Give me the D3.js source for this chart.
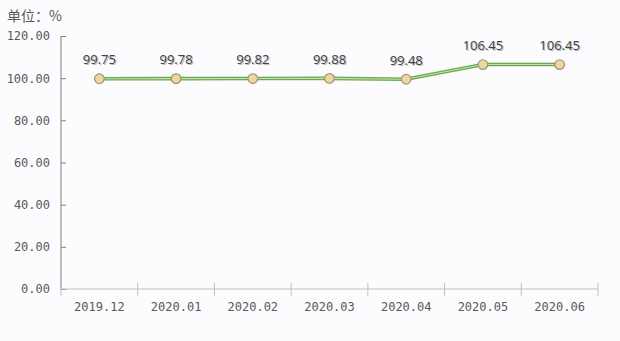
<!DOCTYPE html>
<html><head><meta charset="utf-8">
<script src="https://cdn.jsdelivr.net/npm/d3@7"></script>
<style>
html,body{margin:0;padding:0;background:#fcfcfe;}
svg{display:block;}
</style></head>
<body>
<svg id="c" width="620" height="341"></svg>
<script>
const categories = ["2019.12","2020.01","2020.02","2020.03","2020.04","2020.05","2020.06"];
const values = [99.75, 99.78, 99.82, 99.88, 99.48, 106.45, 106.45];
const yTicks = [0,20,40,60,80,100,120];
const unitLabel = "单位：%";

const svg = d3.select("#c");
const m = {left:61, right:598, top:36, bottom:289};
const x = d3.scaleBand().domain(categories).range([m.left, m.right]);
const y = d3.scaleLinear().domain([0,120]).range([m.bottom, m.top]);
const mono = "'DejaVu Sans Mono', 'Liberation Mono', monospace";

svg.append("text").attr("x",7).attr("y",21).attr("font-family","'Noto Sans CJK SC', sans-serif")
  .attr("font-size",14).attr("fill","#595959").text(unitLabel);

// y axis
const ya = svg.append("g").attr("transform",`translate(${m.left},0)`)
  .call(d3.axisLeft(y).tickValues(yTicks).tickFormat(d=>d3.format(".2f")(d)).tickSize(-5).tickPadding(11));
ya.select(".domain").attr("stroke","#7f7f7f").attr("d",`M0,${m.top}V${m.bottom}`);
ya.selectAll(".tick line").attr("stroke","#7f7f7f");
ya.selectAll("text").attr("font-family",mono).attr("font-size",12).attr("fill","#595959");

// x axis
const xa = svg.append("g").attr("transform",`translate(0,${m.bottom})`)
  .call(d3.axisBottom(x).tickSize(0).tickPadding(13));
xa.select(".domain").attr("stroke","#bfbfbf").attr("d",`M${m.left},0H${m.right}`);
xa.selectAll("text").attr("font-family",mono).attr("font-size",12).attr("fill","#595959");
const edges = categories.map(c=>x(c)).concat([x(categories[categories.length-1])+x.bandwidth()]);
xa.selectAll("line.sep").data(edges).enter().append("line").attr("class","sep")
  .attr("x1",d=>d).attr("x2",d=>d).attr("y1",-6).attr("y2",7).attr("stroke","#bfbfbf");

const cx = d => x(d) + x.bandwidth()/2;
const line = d3.line().x((d,i)=>cx(categories[i])).y(d=>y(d));
svg.append("path").datum(values).attr("d",line).attr("fill","none").attr("stroke","#6aa84f").attr("stroke-width",3.6);
svg.append("path").datum(values).attr("d",line).attr("fill","none").attr("stroke","#c5e0b0").attr("stroke-width",1.1);

svg.selectAll("circle.pt").data(values).enter().append("circle").attr("class","pt")
  .attr("cx",(d,i)=>cx(categories[i])).attr("cy",d=>y(d)).attr("r",4.8)
  .attr("fill","#ecd6a4").attr("stroke","#a39467").attr("stroke-width",1.2);

const lbl = svg.append("g");
lbl.selectAll("text.sh").data(values).enter().append("text").attr("class","sh")
  .attr("x",(d,i)=>cx(categories[i])+1.2).attr("y",d=>y(d)-14.5+1.2).attr("text-anchor","middle")
  .attr("font-family","'Open Sans', sans-serif").attr("font-size",13).attr("fill","#bdbdbd").text(d=>d3.format(".2f")(d));
lbl.selectAll("text.v").data(values).enter().append("text").attr("class","v")
  .attr("x",(d,i)=>cx(categories[i])).attr("y",d=>y(d)-14.5).attr("text-anchor","middle")
  .attr("font-family","'Open Sans', sans-serif").attr("font-size",13).attr("fill","#404040").text(d=>d3.format(".2f")(d));
</script>
</body></html>
